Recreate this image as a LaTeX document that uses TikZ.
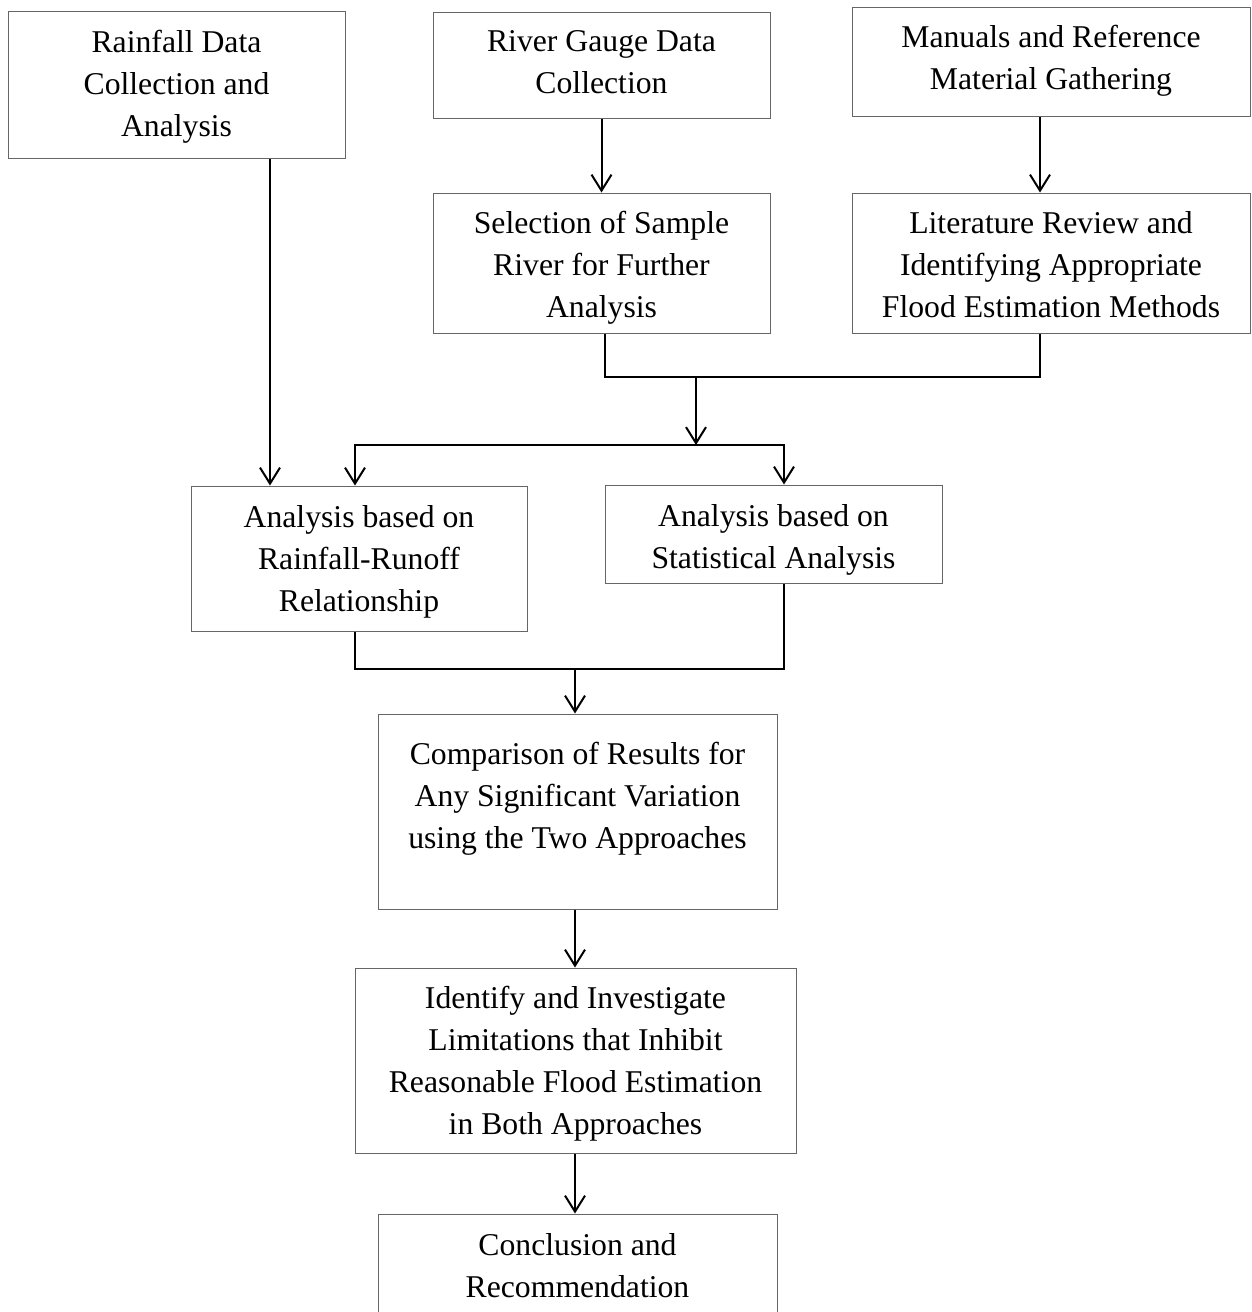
\documentclass[tikz,border=0pt]{standalone}
\usepackage{fontspec}
\setmainfont{Liberation Serif}
\usetikzlibrary{arrows.meta,calc}
\begin{document}
\begin{tikzpicture}[x=1pt,y=-1pt,
  box/.style={draw=black!60, line width=1pt, inner sep=0pt},
  txt/.style={align=center, inner sep=0pt, font=\fontsize{31.7}{42}\selectfont},
  conn/.style={line width=2pt},
  arr/.style={conn, -{Straight Barb[length=16pt,width=20pt]}}]
\useasboundingbox (0,0) rectangle (1251,1312);
\fill[white] (0,0) rectangle (1251,1312);

\node[box, minimum width=337pt, minimum height=147pt] (rain) at (176.5,84.5) {};
\node[txt] (raint) at ($(rain.center)+(0,2)$) {Rainfall Data\\Collection and\\Analysis};
\node[box, minimum width=337pt, minimum height=106pt] (gauge) at (601.5,65) {};
\node[txt] (gauget) at ($(gauge.center)+(0,-3)$) {River Gauge Data\\Collection};
\node[box, minimum width=398pt, minimum height=109pt] (man) at (1051,61.5) {};
\node[txt] (mant) at ($(man.center)+(0,-1)$) {Manuals and Reference\\Material Gathering};
\node[box, minimum width=337pt, minimum height=140pt] (sel) at (601.5,263) {};
\node[txt] (selt) at ($(sel.center)+(0,5)$) {Selection of Sample\\River for Further\\Analysis};
\node[box, minimum width=398pt, minimum height=140pt] (lit) at (1051,263) {};
\node[txt] (litt) at ($(lit.center)+(0,2)$) {Literature Review and\\Identifying Appropriate\\Flood Estimation Methods};
\node[box, minimum width=336pt, minimum height=145pt] (rr) at (359,558.5) {};
\node[txt] (rrt) at ($(rr.center)+(0,3)$) {Analysis based on\\Rainfall-Runoff\\Relationship};
\node[box, minimum width=337pt, minimum height=98pt] (stat) at (773.5,534) {};
\node[txt] (statt) at ($(stat.center)+(0,6)$) {Analysis based on\\Statistical Analysis};
\node[box, minimum width=399pt, minimum height=195pt] (cmp) at (577.5,811.5) {};
\node[txt] (cmpt) at (577.5,799) {Comparison of Results for\\Any Significant Variation\\using the Two Approaches};
\node[box, minimum width=441pt, minimum height=185pt] (ident) at (575.5,1060.5) {};
\node[txt] (identt) at ($(ident.center)+(0,3)$) {Identify and Investigate\\Limitations that Inhibit\\Reasonable Flood Estimation\\in Both Approaches};
\node[box, minimum width=399pt, minimum height=108pt] (concl) at (577.5,1268) {};
\node[txt] (conclt) at ($(concl.center)+(0,-2)$) {Conclusion and\\Recommendation};

\draw[arr] ([xshift=93.5pt]rain.south) -- ([xshift=93.5pt]rain.south |- rr.north);
\draw[arr] (gauge.south) -- (sel.north);
\draw[arr] ([xshift=-11pt]man.south) -- ([xshift=-11pt]lit.north);
\coordinate (j1) at (696,377);
\coordinate (j2) at (696,445);
\draw[conn] ([xshift=3.5pt]sel.south) |- (j1) -| ([xshift=-11pt]lit.south);
\draw[arr] (j1) -- (j2);
\draw[arr] (j2) -| ([xshift=-4pt]rr.north);
\draw[arr] (j2) -| ([xshift=10.5pt]stat.north);
\coordinate (j3) at (575,669);
\draw[conn] ([xshift=-4pt]rr.south) |- (j3) -| ([xshift=10.5pt]stat.south);
\draw[arr] (j3) -- (j3 |- cmp.north);
\draw[arr] (j3 |- cmp.south) -- (j3 |- ident.north);
\draw[arr] (j3 |- ident.south) -- (j3 |- concl.north);
\end{tikzpicture}
\end{document}
